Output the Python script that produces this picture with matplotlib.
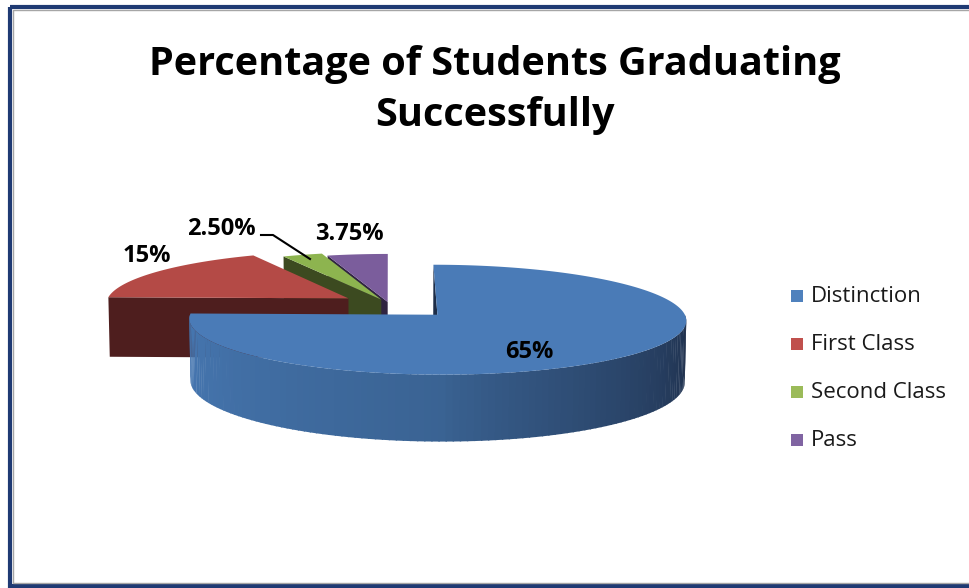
import numpy as np
import matplotlib.pyplot as plt
from matplotlib.patches import Polygon, Rectangle
from matplotlib.lines import Line2D

plt.rcParams['font.family'] = ['Open Sans', 'DejaVu Sans']

title = 'Percentage of Students Graduating\nSuccessfully'
categories = ['Distinction', 'First Class', 'Second Class', 'Pass']
values = [65, 15, 2.5, 3.75]
labels = ['65%', '15%', '2.50%', '3.75%']
explode = [0.28, 0.20, 0.09, 0.04]
top_colors = ['#4a7bb7', '#b44a46', '#8db44f', '#7b5d9c']
side_colors = ['#1d2d48', '#4e1e1e', '#3c4a20', '#302441']
legend_colors = ['#4f81bd', '#c0504d', '#9bbb59', '#8064a2']

# view / layout
ELEV = np.radians(12.5)
DIST = 11.0
SCALE = 243.0
X0, Y0 = 389.0, 304.0
H = 0.255

cam = np.array([0.0, -DIST * np.cos(ELEV), DIST * np.sin(ELEV)])
fwd = -cam / np.linalg.norm(cam)
right = np.array([1.0, 0.0, 0.0])
up = np.cross(right, fwd)


def project(X, Y, Z):
    P = np.stack([np.atleast_1d(X), np.atleast_1d(Y), np.atleast_1d(Z)], axis=-1).astype(float)
    P = P - cam
    xc = P @ right
    yc = P @ up
    zc = P @ fwd
    k = DIST / zc
    return X0 + SCALE * xc * k, Y0 - SCALE * yc * k


def poly_xy(X, Y, Z):
    sx, sy = project(X, Y, Z)
    return np.column_stack([sx, sy])


fig = plt.figure(figsize=(9.69, 5.88), dpi=100)
ax = fig.add_axes([0, 0, 1, 1])
ax.set_xlim(0, 969)
ax.set_ylim(588, 0)
ax.axis('off')

# frame
ax.add_patch(Rectangle((10.5, 6.5), 980, 579, fill=False, ec='#1f3a73', lw=3))
ax.add_patch(Rectangle((13.5, 9.5), 980, 573, fill=False, ec='#a6a6a6', lw=1))

fracs = np.array(values) / np.sum(values)
spans = fracs * 360.0
starts = 90.0 - np.concatenate([[0], np.cumsum(spans)[:-1]])  # clockwise from 12 o'clock

slices = []
for i in range(len(values)):
    a0 = starts[i]
    a1 = a0 - spans[i]
    mid = np.radians((a0 + a1) / 2)
    cx, cy = explode[i] * np.cos(mid), explode[i] * np.sin(mid)
    slices.append((a0, a1, cx, cy))


def draw_slice(i, zorder):
    a0, a1, cx, cy = slices[i]
    th = np.radians(np.linspace(a0, a1, 200))
    ox = cx + np.cos(th)
    oy = cy + np.sin(th)
    # cut face along the start radius (faces the viewer for these slices)
    s = np.radians(a0)
    fx = np.array([cx, cx + np.cos(s), cx + np.cos(s), cx])
    fy = np.array([cy, cy + np.sin(s), cy + np.sin(s), cy])
    fz = np.array([0, 0, -H, -H])
    ax.add_patch(Polygon(poly_xy(fx, fy, fz), closed=True, fc=side_colors[i], ec='none', zorder=zorder))
    if i == 0:
        # outer wall, front half, shaded left -> right
        wall = np.linspace(-180, 0, 120)
        c_left = np.array([0x47, 0x78, 0xb3]) / 255
        c_mid = np.array([0x3a, 0x63, 0x93]) / 255
        c_right = np.array([0x1e, 0x2e, 0x4a]) / 255
        for j in range(len(wall) - 1):
            t0, t1 = np.radians(wall[j]), np.radians(wall[j + 1] + 0.3)
            wx = np.array([cx + np.cos(t0), cx + np.cos(t1), cx + np.cos(t1), cx + np.cos(t0)])
            wy = np.array([cy + np.sin(t0), cy + np.sin(t1), cy + np.sin(t1), cy + np.sin(t0)])
            wz = np.array([0, 0, -H, -H])
            u = j / (len(wall) - 2)
            if u < 0.5:
                col = c_left + (c_mid - c_left) * (u / 0.5)
            else:
                col = c_mid + (c_right - c_mid) * ((u - 0.5) / 0.5) ** 0.8
            ax.add_patch(Polygon(poly_xy(wx, wy, wz), closed=True, fc=col, ec='none', zorder=zorder))
    # top face
    tx = np.concatenate([[cx], ox])
    ty = np.concatenate([[cy], oy])
    ax.add_patch(Polygon(poly_xy(tx, ty, np.zeros_like(tx)), closed=True,
                         fc=top_colors[i], ec='none', zorder=zorder + 0.5))


# back to front: Pass, Second Class, First Class, Distinction
draw_slice(3, 2)
draw_slice(2, 3)
draw_slice(1, 4)
draw_slice(0, 6)

# data labels
lab_kw = dict(fontsize=17, fontweight='bold', color='black', ha='center', va='center', zorder=10)
ax.text(529, 352, labels[0], **lab_kw)
ax.text(147, 256, labels[1], **lab_kw)
ax.text(221, 229, labels[2], **lab_kw)
ax.text(349, 234, labels[3], **lab_kw)
ax.add_line(Line2D([261, 273, 310], [235, 235, 259], color='black', lw=1.5, zorder=10))

# title
ax.text(495, 90, title, fontsize=28.5, fontweight='bold', ha='center', va='center',
        linespacing=1.42, zorder=10)

# legend
for k, name in enumerate(categories):
    yy = 296 + k * 48
    ax.add_patch(Rectangle((791, yy - 6), 12, 12, fc=legend_colors[k], ec='none', zorder=10))
    ax.text(811, yy, name, fontsize=16, ha='left', va='center', color='#1a1a1a', zorder=10)

fig.savefig('out.png', dpi=100)
